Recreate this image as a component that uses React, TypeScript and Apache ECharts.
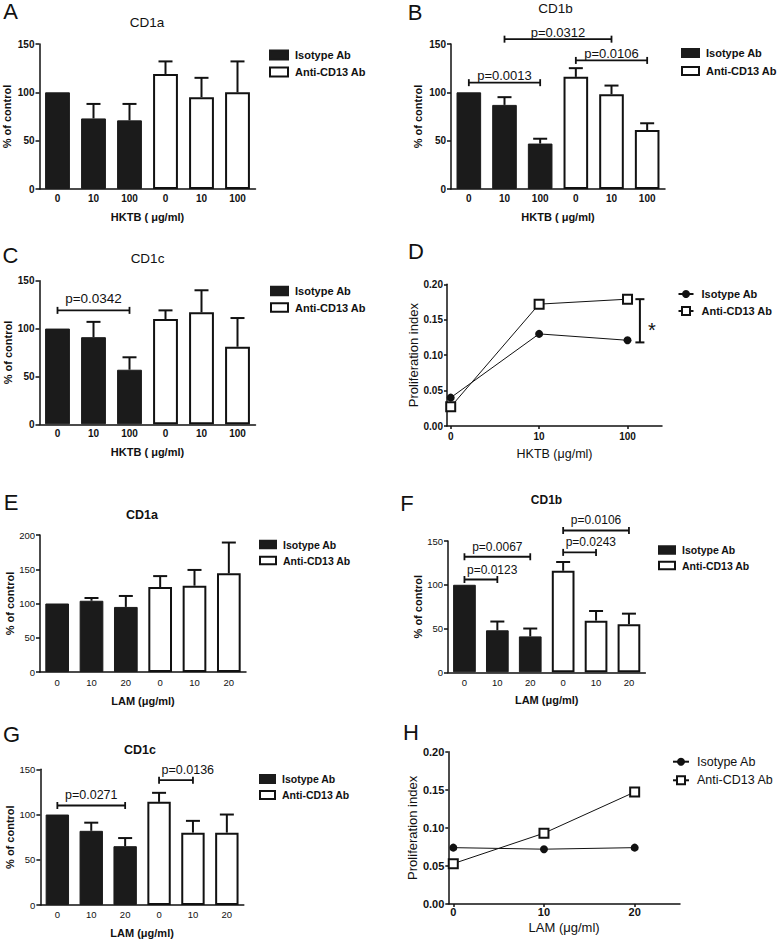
import React, { useEffect, useRef } from 'react';
import * as echarts from 'echarts';

// ---------------- Data ----------------
const hktbCategories = ['0', '10', '100', '0', '10', '100'];
const lamCategories = ['0', '10', '20', '0', '10', '20'];
const seriesNames = ['Isotype Ab', 'Anti-CD13 Ab'];

// A  CD1a / HKTB
const isotypeA = [100, 73, 71];
const isotypeErrA = [null, 88, 88];
const antiA = [119, 95, 100];
const antiErrA = [132, 115, 132];
const bracketsA: any[] = [];

// B  CD1b / HKTB
const isotypeB = [100, 87, 47];
const isotypeErrB = [null, 95, 52];
const antiB = [116, 98, 61];
const antiErrB = [125, 107, 68];
const bracketsB = [
  { from: 0, to: 2, y: 110, label: 'p=0.0013' },
  { from: 1, to: 4, y: 155, label: 'p=0.0312' },
  { from: 3, to: 5, y: 133, label: 'p=0.0106' },
];

// C  CD1c / HKTB
const isotypeC = [100, 91, 57];
const isotypeErrC = [null, 107, 70];
const antiC = [110, 117, 81];
const antiErrC = [119, 140, 111];
const bracketsC = [{ from: 0, to: 2, y: 119, label: 'p=0.0342' }];

// D  proliferation / HKTB
const doseLabelsD = ['0', '10', '100'];
const dosePositionsD = [0, 1, 2];
const isotypeD = [0.04, 0.13, 0.121];
const antiD = [0.027, 0.172, 0.179];
const significanceD = [{ x: 2.14, low: 0.118, high: 0.179, label: '*' }];

// E  CD1a / LAM
const isotypeE = [100, 104, 95];
const isotypeErrE = [null, 108, 111];
const antiE = [124, 126, 144];
const antiErrE = [140, 149, 189];
const bracketsE: any[] = [];

// F  CD1b / LAM
const isotypeF = [100, 48, 41];
const isotypeErrF = [null, 58, 50];
const antiF = [116, 59, 55];
const antiErrF = [126, 70, 67];
const bracketsF = [
  { from: 0, to: 1, y: 106, label: 'p=0.0123' },
  { from: 0, to: 2, y: 132, label: 'p=0.0067' },
  { from: 3, to: 4, y: 137, label: 'p=0.0243' },
  { from: 3, to: 5, y: 162, label: 'p=0.0106' },
];

// G  CD1c / LAM
const isotypeG = [100, 82, 65];
const isotypeErrG = [null, 91, 74];
const antiG = [114, 80, 80];
const antiErrG = [124, 93, 100];
const bracketsG = [
  { from: 0, to: 2, y: 110, label: 'p=0.0271' },
  { from: 3, to: 4, y: 138, label: 'p=0.0136' },
];

// H  proliferation / LAM
const dosesH = [0, 10, 20];
const isotypeH = [0.074, 0.072, 0.074];
const antiH = [0.053, 0.093, 0.147];

// ---------------- Styling / layout ----------------
const FONT = '"Liberation Sans", Arial, Helvetica, sans-serif';
const INK = '#111';
const BAR_DARK = '#1b1b1b';

const topStyle = {
  tickSize: 10, tickWeight: 'bold', nameSize: 11, legendSize: 11, legendWeight: 'bold',
};
const bottomStyle = {
  tickSize: 9.5, tickWeight: 'normal', nameSize: 11, legendSize: 10.5, legendWeight: 'bold',
};

const barPanels = [
  {
    key: 'A', cats: hktbCategories, iso: isotypeA, isoErr: isotypeErrA, anti: antiA, antiErr: antiErrA,
    brackets: bracketsA, yMax: 150, grid: { left: 39.5, top: 44, width: 216, height: 145 },
    yNameGap: 27, xName: 'HKTB ( μg/ml)', xNameGap: 22, st: topStyle, xMargin: 4,
    legend: { left: 269, top: 48.5, lh: 13, gap: 4, iw: 18, ih: 9 }, bFont: 13, bOff: 7,
  },
  {
    key: 'B', cats: hktbCategories, iso: isotypeB, isoErr: isotypeErrB, anti: antiB, antiErr: antiErrB,
    brackets: bracketsB, yMax: 150, grid: { left: 451, top: 44, width: 214, height: 145 },
    yNameGap: 28, xName: 'HKTB ( μg/ml)', xNameGap: 22, st: topStyle, xMargin: 4,
    legend: { left: 681, top: 46.5, lh: 13, gap: 5, iw: 17, ih: 8 }, bFont: 13, bOff: 7,
  },
  {
    key: 'C', cats: hktbCategories, iso: isotypeC, isoErr: isotypeErrC, anti: antiC, antiErr: antiErrC,
    brackets: bracketsC, yMax: 150, grid: { left: 39.5, top: 280.7, width: 216, height: 143.6 },
    yNameGap: 26, xName: 'HKTB ( μg/ml)', xNameGap: 22, st: topStyle, xMargin: 4,
    legend: { left: 270, top: 284.5, lh: 13, gap: 3.5, iw: 17, ih: 8.5 }, bFont: 13.5, bOff: 12,
  },
  {
    key: 'E', cats: lamCategories, iso: isotypeE, isoErr: isotypeErrE, anti: antiE, antiErr: antiErrE,
    brackets: bracketsE, yMax: 200, grid: { left: 40, top: 535, width: 206, height: 137 },
    yNameGap: 25, xName: 'LAM (μg/ml)', xNameGap: 23, st: bottomStyle, xMargin: 5,
    legend: { left: 259, top: 538.5, lh: 12, gap: 4, iw: 16, ih: 7.5 }, bFont: 12, bOff: 10,
  },
  {
    key: 'F', cats: lamCategories, iso: isotypeF, isoErr: isotypeErrF, anti: antiF, antiErr: antiErrF,
    brackets: bracketsF, yMax: 150, grid: { left: 448, top: 541, width: 197.4, height: 131.3 },
    yNameGap: 24, xName: 'LAM (μg/ml)', xNameGap: 22, st: bottomStyle, xMargin: 5,
    legend: { left: 658, top: 544, lh: 12, gap: 3.5, iw: 16, ih: 7.5 }, bFont: 12, bOff: 10,
  },
  {
    key: 'G', cats: lamCategories, iso: isotypeG, isoErr: isotypeErrG, anti: antiG, antiErr: antiErrG,
    brackets: bracketsG, yMax: 150, grid: { left: 40.4, top: 769.3, width: 203.4, height: 135.7 },
    yNameGap: 25, xName: 'LAM (μg/ml)', xNameGap: 22.5, st: bottomStyle, xMargin: 4,
    legend: { left: 259, top: 773, lh: 12, gap: 4, iw: 15, ih: 8 }, bFont: 12.5, bOff: 10,
  },
];

const linePanels = [
  {
    key: 'D', xs: dosePositionsD, labels: doseLabelsD, iso: isotypeD, anti: antiD, sig: significanceD,
    xMin: -0.042, xMax: 2.39, grid: { left: 447, top: 284.3, width: 215, height: 141.7 },
    tickSize: 10, xName: 'HKTB (μg/ml)', xNameSize: 12.5, xNameWeight: 'normal', xNameGap: 21, xMargin: 5,
    yNameGap: 27,
    legend: { left: 677.5, top: 287.5, lh: 13, gap: 4, iw: 15, ih: 10, size: 11, weight: 'bold' },
  },
  {
    key: 'H', xs: dosesH, labels: null, iso: isotypeH, anti: antiH, sig: [],
    xMin: -0.55, xMax: 25, grid: { left: 448.3, top: 751.7, width: 231.7, height: 152.3 },
    tickSize: 11, xName: 'LAM (μg/ml)', xNameSize: 13, xNameWeight: 'normal', xNameGap: 16.5, xMargin: 2,
    yNameGap: 27,
    legend: { left: 672, top: 754.7, lh: 14, gap: 4.6, iw: 16, ih: 10, size: 12.5, weight: 'normal' },
  },
];

const panelLetters = [
  { t: 'A', x: 10.5, y: 11 }, { t: 'B', x: 415, y: 12.5 }, { t: 'C', x: 10.5, y: 255 },
  { t: 'D', x: 416, y: 251.5 }, { t: 'E', x: 11, y: 502.5 }, { t: 'F', x: 407, y: 503.5 },
  { t: 'G', x: 11.5, y: 734.5 }, { t: 'H', x: 411, y: 732.5 },
];
const panelTitles = [
  { t: 'CD1a', x: 147, y: 22, size: 13.5, weight: 'normal' },
  { t: 'CD1b', x: 555.5, y: 8, size: 13.5, weight: 'normal' },
  { t: 'CD1c', x: 147.5, y: 258, size: 13.5, weight: 'normal' },
  { t: 'CD1a', x: 142, y: 515, size: 12.5, weight: 'bold' },
  { t: 'CD1b', x: 546.5, y: 500, size: 12, weight: 'bold' },
  { t: 'CD1c', x: 140, y: 750, size: 12.5, weight: 'bold' },
];

const axisLineStyle = { color: INK, width: 1.5 };

function textStyle(text: string, size: number, weight: string, align = 'center') {
  return {
    text,
    fill: INK,
    font: `${weight} ${size}px ${FONT}`,
    textAlign: align,
    textVerticalAlign: 'middle',
    align,
    verticalAlign: 'middle',
  };
}

function buildOption() {
  const grid: any[] = [];
  const xAxis: any[] = [];
  const yAxis: any[] = [];
  const series: any[] = [];
  const legend: any[] = [];

  let idx = 0;
  barPanels.forEach((p) => {
    const i = idx++;
    grid.push({ ...p.grid, containLabel: false, outerBoundsMode: 'none' });
    xAxis.push({
      type: 'category', gridIndex: i, data: p.cats, boundaryGap: true,
      axisLine: { show: true, onZero: false, lineStyle: axisLineStyle },
      axisTick: { show: false },
      axisLabel: { color: INK, fontFamily: FONT, fontSize: p.st.tickSize, fontWeight: p.st.tickWeight, margin: p.xMargin, interval: 0 },
      splitLine: { show: false },
      name: p.xName, nameLocation: 'middle', nameGap: p.xNameGap,
      nameTextStyle: { color: INK, fontFamily: FONT, fontSize: p.st.nameSize, fontWeight: 'bold' },
    });
    yAxis.push({
      type: 'value', gridIndex: i, min: 0, max: p.yMax, interval: 50,
      axisLine: { show: true, onZero: false, lineStyle: axisLineStyle },
      axisTick: { show: true, length: 4, lineStyle: axisLineStyle },
      axisLabel: { color: INK, fontFamily: FONT, fontSize: p.st.tickSize, fontWeight: p.st.tickWeight, margin: 5 },
      splitLine: { show: false },
      name: '% of control', nameLocation: 'middle', nameGap: p.yNameGap, nameRotate: 90,
      nameTextStyle: { color: INK, fontFamily: FONT, fontSize: p.st.nameSize, fontWeight: 'bold' },
    });
    const isoName = `${seriesNames[0]}|${p.key}`;
    const antiName = `${seriesNames[1]}|${p.key}`;
    series.push({
      type: 'bar', name: isoName, xAxisIndex: i, yAxisIndex: i,
      data: [...p.iso, '-', '-', '-'], barWidth: '69%', barGap: '-100%',
      itemStyle: { color: BAR_DARK, borderColor: BAR_DARK, borderWidth: 1 },
      emphasis: { disabled: true },
    });
    series.push({
      type: 'bar', name: antiName, xAxisIndex: i, yAxisIndex: i,
      data: ['-', '-', '-', ...p.anti], barWidth: '69%', barGap: '-100%',
      itemStyle: { color: '#fff', borderColor: INK, borderWidth: 2 },
      emphasis: { disabled: true },
    });
    const errData: any[] = [];
    p.iso.forEach((v, k) => { if (p.isoErr[k] != null) errData.push([k, v, p.isoErr[k]]); });
    p.anti.forEach((v, k) => { if (p.antiErr[k] != null) errData.push([k + 3, v, p.antiErr[k]]); });
    series.push({
      type: 'custom', xAxisIndex: i, yAxisIndex: i, z: 5, silent: true,
      encode: { x: 0, y: [1, 2] },
      data: errData,
      renderItem: (params: any, api: any) => {
        const x = api.value(0);
        const p0 = api.coord([x, api.value(1)]);
        const p1 = api.coord([x, api.value(2)]);
        const st = { stroke: INK, lineWidth: 2 };
        return {
          type: 'group', children: [
            { type: 'line', shape: { x1: p0[0], y1: p0[1], x2: p1[0], y2: p1[1] }, style: st },
            { type: 'line', shape: { x1: p1[0] - 7, y1: p1[1], x2: p1[0] + 7, y2: p1[1] }, style: st },
          ],
        };
      },
    });
    if (p.brackets.length) {
      const br = p.brackets;
      series.push({
        type: 'custom', xAxisIndex: i, yAxisIndex: i, z: 6, silent: true,
        encode: { x: [0, 1], y: 2 },
        data: br.map((b: any) => [b.from, b.to, b.y]),
        renderItem: (params: any, api: any) => {
          const b = br[params.dataIndex];
          const a = api.coord([b.from, b.y]);
          const c = api.coord([b.to, b.y]);
          const y = a[1];
          const tw = b.label.length * p.bFont * 0.525;
          const mid = (a[0] + c[0]) / 2;
          const cx = Math.max(mid, a[0] + 2.5 + tw / 2);
          const st = { stroke: INK, lineWidth: 1.8 };
          return {
            type: 'group', children: [
              { type: 'line', shape: { x1: a[0], y1: y, x2: c[0], y2: y }, style: st },
              { type: 'line', shape: { x1: a[0], y1: y - 3.5, x2: a[0], y2: y + 3.5 }, style: st },
              { type: 'line', shape: { x1: c[0], y1: y - 3.5, x2: c[0], y2: y + 3.5 }, style: st },
              { type: 'text', x: cx, y: y - p.bOff, style: textStyle(b.label, p.bFont, 'normal') },
            ],
          };
        },
      });
    }
    legend.push({
      show: true, orient: 'vertical', left: p.legend.left, top: p.legend.top, padding: 0,
      itemWidth: p.legend.iw, itemHeight: p.legend.ih, itemGap: p.legend.gap, icon: 'rect',
      selectedMode: false, data: [isoName, antiName],
      formatter: (n: string) => n.split('|')[0],
      textStyle: { color: INK, fontFamily: FONT, fontSize: p.st.legendSize, fontWeight: p.st.legendWeight, lineHeight: p.legend.lh, padding: [0, 0, 0, 2] },
    });
  });

  linePanels.forEach((p) => {
    const i = idx++;
    grid.push({ ...p.grid, containLabel: false, outerBoundsMode: 'none' });
    xAxis.push({
      type: 'value', gridIndex: i, min: p.xMin, max: p.xMax,
      axisLine: { show: true, onZero: false, lineStyle: axisLineStyle },
      axisTick: { show: true, length: 3, lineStyle: axisLineStyle, customValues: p.xs },
      axisLabel: {
        color: INK, fontFamily: FONT, fontSize: p.tickSize, fontWeight: 'bold', margin: p.xMargin,
        customValues: p.xs,
        formatter: (v: number) => (p.labels ? p.labels[p.xs.indexOf(v)] ?? '' : String(v)),
      },
      splitLine: { show: false },
      name: p.xName, nameLocation: 'middle', nameGap: p.xNameGap,
      nameTextStyle: { color: INK, fontFamily: FONT, fontSize: p.xNameSize, fontWeight: p.xNameWeight },
    });
    yAxis.push({
      type: 'value', gridIndex: i, min: 0, max: 0.2, interval: 0.05,
      axisLine: { show: true, onZero: false, lineStyle: axisLineStyle },
      axisTick: { show: true, length: 3, lineStyle: axisLineStyle },
      axisLabel: {
        color: INK, fontFamily: FONT, fontSize: p.tickSize, fontWeight: 'bold', margin: 4,
        formatter: (v: number) => v.toFixed(2),
      },
      splitLine: { show: false },
      name: 'Proliferation index', nameLocation: 'middle', nameGap: p.yNameGap, nameRotate: 90,
      nameTextStyle: { color: INK, fontFamily: FONT, fontSize: 13, fontWeight: 'normal' },
    });
    const isoName = `${seriesNames[0]}|${p.key}`;
    const antiName = `${seriesNames[1]}|${p.key}`;
    series.push({
      type: 'line', name: isoName, xAxisIndex: i, yAxisIndex: i,
      data: p.iso.map((v, k) => [p.xs[k], v]),
      symbol: 'circle', symbolSize: 8,
      lineStyle: { color: INK, width: 1 },
      itemStyle: { color: INK, borderColor: INK, borderWidth: 0 },
      emphasis: { disabled: true },
    });
    series.push({
      type: 'line', name: antiName, xAxisIndex: i, yAxisIndex: i,
      data: p.anti.map((v, k) => [p.xs[k], v]),
      symbol: 'emptyRect', symbolSize: 9,
      lineStyle: { color: INK, width: 1 },
      itemStyle: { color: INK, borderColor: INK, borderWidth: 2 },
      emphasis: { disabled: true },
    });
    if (p.sig.length) {
      const sg = p.sig;
      series.push({
        type: 'custom', xAxisIndex: i, yAxisIndex: i, z: 6, silent: true,
        encode: { x: 0, y: [1, 2] },
        data: sg.map((s: any) => [s.x, s.low, s.high]),
        renderItem: (params: any, api: any) => {
          const s = sg[params.dataIndex];
          const a = api.coord([s.x, s.low]);
          const c = api.coord([s.x, s.high]);
          const st = { stroke: INK, lineWidth: 2 };
          return {
            type: 'group', children: [
              { type: 'line', shape: { x1: a[0], y1: a[1], x2: c[0], y2: c[1] }, style: st },
              { type: 'line', shape: { x1: a[0] - 4.5, y1: a[1], x2: a[0] + 4.5, y2: a[1] }, style: st },
              { type: 'line', shape: { x1: c[0] - 4.5, y1: c[1], x2: c[0] + 4.5, y2: c[1] }, style: st },
              { type: 'text', x: a[0] + 12, y: (a[1] + c[1]) / 2 + 9, style: textStyle(s.label, 20, 'normal') },
            ],
          };
        },
      });
    }
    legend.push({
      show: true, orient: 'vertical', left: p.legend.left, top: p.legend.top, padding: 0,
      itemWidth: p.legend.iw, itemHeight: p.legend.ih, itemGap: p.legend.gap,
      selectedMode: false, data: [isoName, antiName],
      formatter: (n: string) => n.split('|')[0],
      textStyle: { color: INK, fontFamily: FONT, fontSize: p.legend.size, fontWeight: p.legend.weight, lineHeight: p.legend.lh, padding: [0, 0, 0, 3] },
    });
  });

  const elements: any[] = [];
  panelLetters.forEach((l) => {
    elements.push({ type: 'text', x: l.x, y: l.y, style: textStyle(l.t, 22, 'normal') });
  });
  panelTitles.forEach((t) => {
    elements.push({ type: 'text', x: t.x, y: t.y, style: textStyle(t.t, t.size, t.weight) });
  });

  return {
    animation: false,
    backgroundColor: '#fff',
    textStyle: { fontFamily: FONT, color: INK },
    tooltip: { show: false },
    grid, xAxis, yAxis, series, legend,
    graphic: { elements },
  };
}

export default function App() {
  const ref = useRef<HTMLDivElement>(null);
  useEffect(() => {
    if (!ref.current) return;
    const chart = echarts.init(ref.current, null, { renderer: 'svg' });
    chart.setOption(buildOption() as any);
    return () => chart.dispose();
  }, []);
  return (
    <div
      ref={ref}
      style={{ position: 'absolute', left: 0, top: 0, width: 778, height: 943, background: '#fff' }}
    />
  );
}
